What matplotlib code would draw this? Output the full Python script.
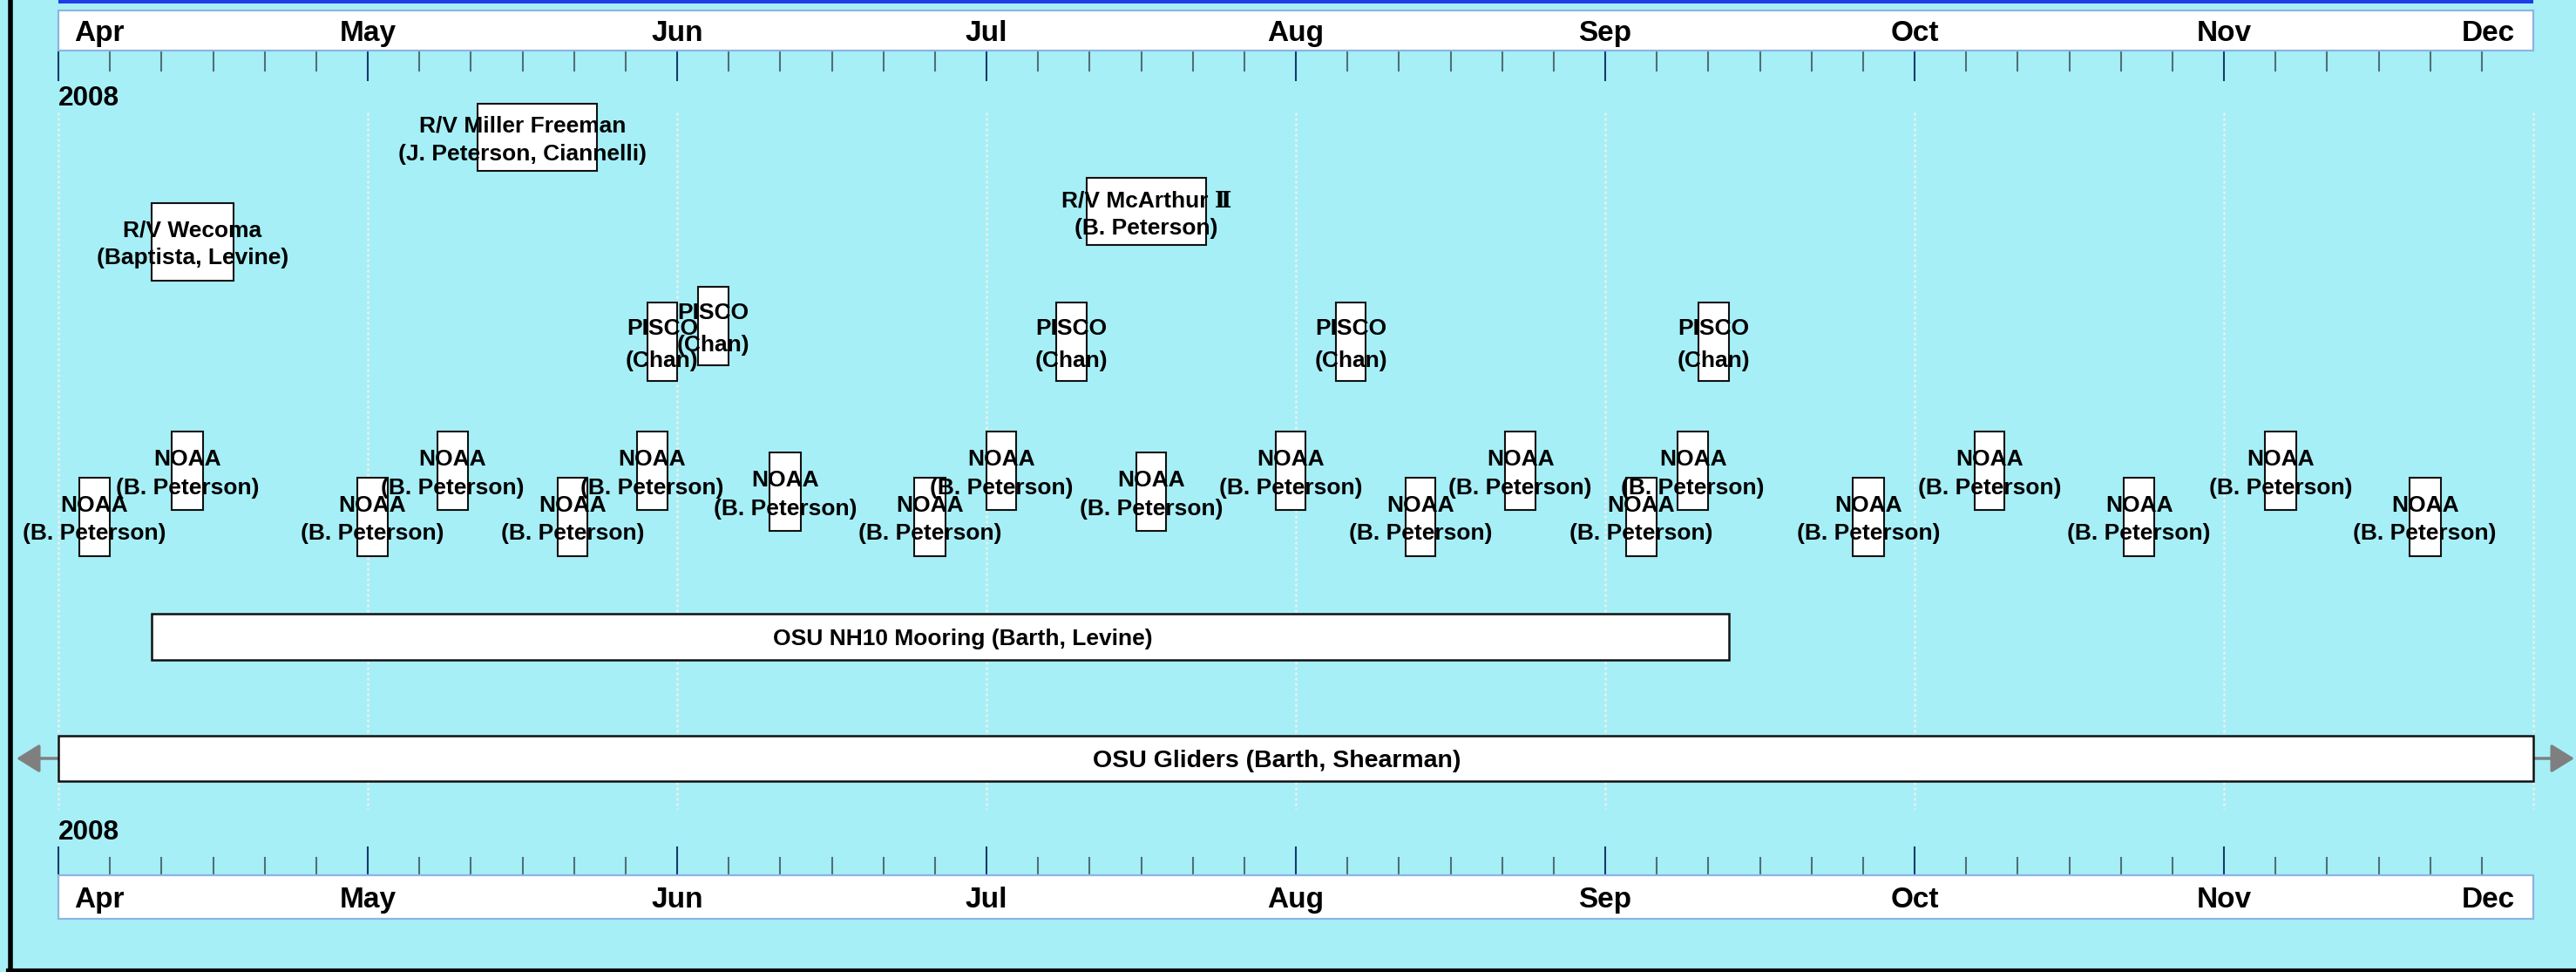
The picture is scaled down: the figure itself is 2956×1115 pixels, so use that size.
import matplotlib
matplotlib.use("Agg")
import matplotlib.pyplot as plt
from matplotlib.patches import Rectangle
from matplotlib.lines import Line2D
import pandas as pd

plt.rcParams['font.family'] = ['Liberation Sans', 'DejaVu Serif']

# ---- dados ----
meses = ["Apr", "May", "Jun", "Jul", "Aug", "Sep", "Oct", "Nov", "Dec"]
ano = "2008"

noaa_inicio = ["2008-04-03", "2008-04-12", "2008-04-30", "2008-05-08", "2008-05-20",
               "2008-05-28", "2008-06-10", "2008-06-24", "2008-07-01", "2008-07-16",
               "2008-07-30", "2008-08-12", "2008-08-22", "2008-09-03", "2008-09-08",
               "2008-09-25", "2008-10-07", "2008-10-22", "2008-11-05", "2008-11-19"]
noaa_linha = [0, 2, 0, 2, 0, 2, 1, 0, 2, 1, 2, 0, 2, 0, 2, 0, 2, 0, 2, 0]
noaa_dias = 3

pisco_inicio = ["2008-05-29", "2008-06-03", "2008-07-08", "2008-08-05", "2008-09-10"]
pisco_linha = [0, 1, 0, 0, 0]
pisco_dias = 3

navios = ["R/V Wecoma", "R/V Miller Freeman", "R/V McArthur \u2161"]
navios_pi = ["(Baptista, Levine)", "(J. Peterson, Ciannelli)", "(B. Peterson)"]
navios_inicio = ["2008-04-10", "2008-05-12", "2008-07-11"]
navios_fim = ["2008-04-18", "2008-05-24", "2008-07-23"]
navios_desloc = [0, -1.5, 0]   # deslocamento do texto (dias)

fundeio_nome = "OSU NH10 Mooring (Barth, Levine)"
fundeio_inicio, fundeio_fim = "2008-04-10", "2008-09-13"
gliders_nome = "OSU Gliders (Barth, Shearman)"
gliders_inicio, gliders_fim = "2008-04-01", "2008-12-01"


def mes_pos(d):
    d = pd.Timestamp(d)
    return (d.month - 4) + (d.day - 1) / d.days_in_month


def dur_pos(d, dias):
    return mes_pos(pd.Timestamp(d) + pd.Timedelta(days=dias))


fundo = "#a6eff7"
fs = 19
fs_mes = 24
fs_ano = 22.7

fig = plt.figure(figsize=(29.56, 11.15), dpi=100)
fig.patch.set_facecolor(fundo)
ax = fig.add_axes([0, 0, 1, 1])
ax.set_facecolor(fundo)
ax.set_xlim(-67 / 355, 2889 / 355)
ax.set_ylim(1115, 0)
ax.axis("off")

x0 = mes_pos(gliders_inicio)
x1 = mes_pos(gliders_fim)

# barra azul e caixas dos meses
ax.add_patch(Rectangle((x0, 0), x1 - x0, 4, facecolor="#1f3ce6", edgecolor="none", zorder=3))
for y0, y1 in [(12, 58), (1004, 1054)]:
    ax.add_patch(Rectangle((x0, y0), x1 - x0, y1 - y0, facecolor="white",
                           edgecolor="#8db4e0", lw=1.6, zorder=3))

# marcas
n = len(meses)
for i in range(n - 1):
    ax.plot([i, i], [58, 92], color="#163a6e", lw=1.5, zorder=2)
    ax.plot([i, i], [972, 1004], color="#163a6e", lw=1.5, zorder=2)
    for k in range(1, 6):
        xm = i + k / 6
        ax.plot([xm, xm], [58, 81], color="#4f7076", lw=1.5, zorder=2)
        ax.plot([xm, xm], [984, 1004], color="#4f7076", lw=1.5, zorder=2)

# rotulos dos meses
for i, m in enumerate(meses):
    if i == 0:
        xt, ha = i + 18 / 355, "left"
    elif i == n - 1:
        xt, ha = i - 21 / 355, "right"
    else:
        xt, ha = i, "center"
    ax.text(xt, 47, m, ha=ha, va="baseline", fontsize=fs_mes, fontweight="bold", zorder=6)
    ax.text(xt, 1041, m, ha=ha, va="baseline", fontsize=fs_mes, fontweight="bold", zorder=6)

ax.text(x0, 121, ano, ha="left", va="baseline", fontsize=fs_ano, fontweight="bold")
ax.text(x0, 963, ano, ha="left", va="baseline", fontsize=fs_ano, fontweight="bold")

# grade pontilhada
for i in range(n):
    ax.plot([i, i], [129, 928], color="#eeeeee", lw=1.8, ls=(0, (1.2, 1.2)), zorder=1)


def caixa(xa, xb, yc, h, lw=1.5):
    ax.add_patch(Rectangle((xa, yc - h / 2), xb - xa, h, facecolor="white",
                           edgecolor="#111111", lw=lw, zorder=3))


def rotulo(x, yc, l1, l2, d1=-5.5, d2=26.5):
    ax.text(x, yc + d1, l1, ha="center", va="baseline", fontsize=fs, fontweight="bold", zorder=6)
    ax.text(x, yc + d2, l2, ha="center", va="baseline", fontsize=fs, fontweight="bold", zorder=6)


# NOAA
noaa_y = {0: 592.5, 1: 564, 2: 540}
for d, r in zip(noaa_inicio, noaa_linha):
    xa, xb = mes_pos(d), dur_pos(d, noaa_dias)
    caixa(xa, xb, noaa_y[r], 90)
    rotulo((xa + xb) / 2, noaa_y[r], "NOAA", "(B. Peterson)")

# PISCO
pisco_y = {0: 392, 1: 373.5}
for d, r in zip(pisco_inicio, pisco_linha):
    xa, xb = mes_pos(d), dur_pos(d, pisco_dias)
    caixa(xa, xb, pisco_y[r], 90)
    rotulo((xa + xb) / 2, pisco_y[r], "PISCO", "(Chan)", -8, 29)

# navios
navios_y = [277, 157.5, 242.5]
navios_h = [89, 77, 77]
for nome, pi, a, b, dl, yc, h in zip(navios, navios_pi, navios_inicio, navios_fim,
                                     navios_desloc, navios_y, navios_h):
    xa, xb = mes_pos(a), mes_pos(b)
    caixa(xa, xb, yc, h)
    xt = (xa + xb) / 2 + dl / 31
    rotulo(xt, yc, nome, pi)

# fundeio
xa, xb = mes_pos(fundeio_inicio), mes_pos(fundeio_fim)
caixa(xa, xb, 730.5, 53, lw=1.8)
ax.text((xa + xb) / 2 + 26 / 355, 740, fundeio_nome, ha="center", va="baseline", fontsize=fs,
        fontweight="bold", zorder=6)

# gliders
caixa(x0, x1, 870, 52, lw=1.8)
ax.text((x0 + x1) / 2 - 22 / 355, 880, gliders_nome, ha="center", va="baseline", fontsize=20.5,
        fontweight="bold", zorder=6)
seta = dict(arrowstyle="-|>,head_length=0.45,head_width=0.28", color="#7f7f7f",
            lw=2.5, mutation_scale=36, shrinkA=0, shrinkB=0)
ax.annotate("", xy=(x0 - 48 / 355, 870), xytext=(x0, 870), arrowprops=seta, zorder=2)
ax.annotate("", xy=(x1 + 47 / 355, 870), xytext=(x1, 870), arrowprops=seta, zorder=2)

# moldura
fig.add_artist(Line2D([11.5 / 2956, 11.5 / 2956], [0, 1], color="black", lw=4,
                      transform=fig.transFigure))
fig.add_artist(Line2D([9 / 2956, 1], [2 / 1115, 2 / 1115], color="black", lw=3,
                      transform=fig.transFigure))

fig.savefig("out.png", dpi=100, facecolor=fundo)
